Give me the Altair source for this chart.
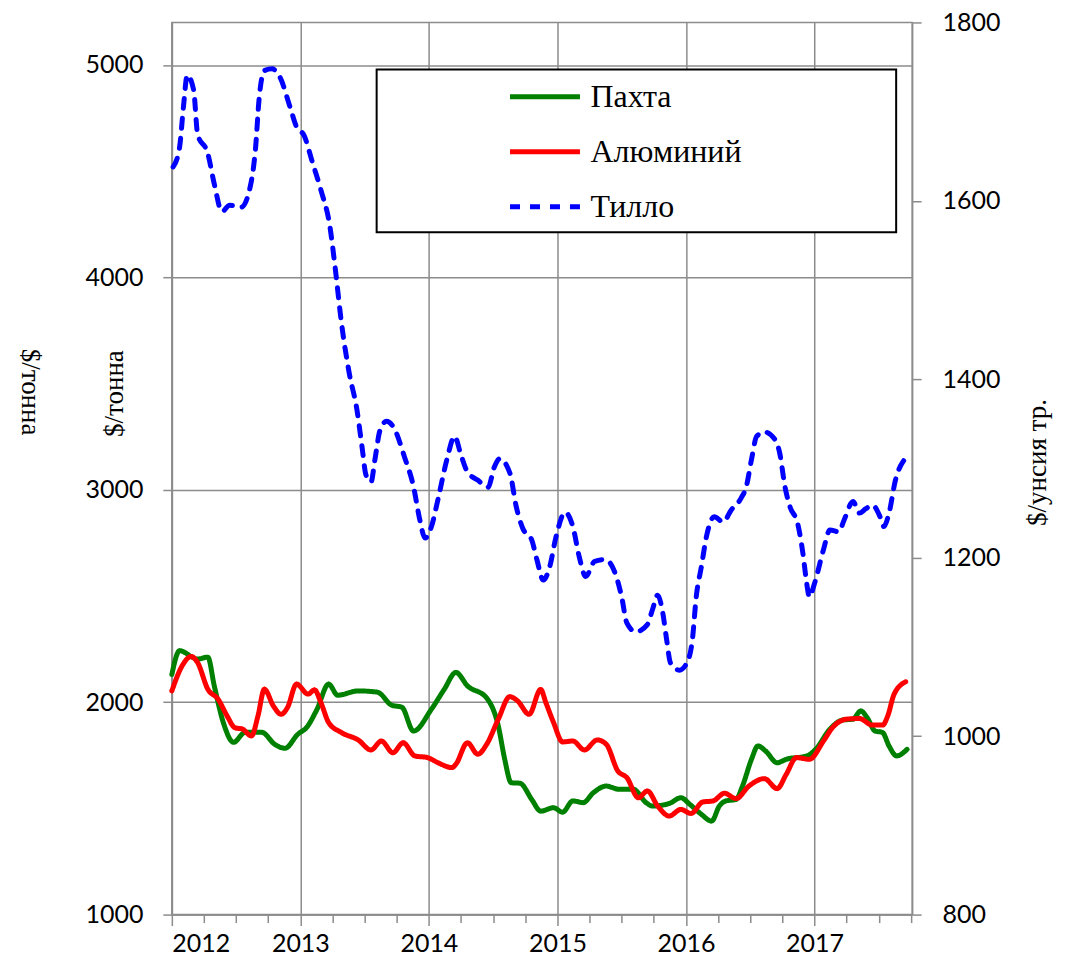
import altair as alt
import pandas as pd

# ---------------- data ----------------
series_names = ["Пахта", "Алюминий", "Тилло"]

cotton_year = [2012.00, 2012.06, 2012.20, 2012.28, 2012.33, 2012.40, 2012.48, 2012.57, 2012.70,
               2012.80, 2012.88, 2012.98, 2013.05, 2013.13, 2013.22, 2013.29, 2013.45, 2013.60,
               2013.71, 2013.79, 2013.88, 2014.02, 2014.12, 2014.21, 2014.30, 2014.45, 2014.54,
               2014.59, 2014.64, 2014.71, 2014.80, 2014.87, 2014.97, 2015.04, 2015.12, 2015.20,
               2015.28, 2015.38, 2015.48, 2015.59, 2015.69, 2015.74, 2015.87, 2015.96, 2016.03,
               2016.12, 2016.20, 2016.26, 2016.31, 2016.39, 2016.44, 2016.51, 2016.56, 2016.62,
               2016.71, 2016.78, 2016.94, 2017.01, 2017.12, 2017.22, 2017.30, 2017.36, 2017.41,
               2017.47, 2017.53, 2017.58, 2017.64, 2017.72]
cotton_val = [2130, 2242, 2203, 2212, 2077, 1905, 1811, 1858, 1858,
              1802, 1783, 1849, 1882, 1967, 2085, 2033, 2053, 2047,
              1986, 1976, 1864, 1967, 2061, 2140, 2077, 2019, 1888,
              1731, 1621, 1618, 1542, 1487, 1503, 1482, 1535, 1527,
              1574, 1605, 1590, 1590, 1527, 1511, 1523, 1550, 1519,
              1472, 1440, 1511, 1535, 1542, 1605, 1731, 1794, 1770,
              1715, 1731, 1747, 1778, 1873, 1916, 1920, 1959, 1927,
              1865, 1857, 1794, 1747, 1778]

alu_year = [2012.00, 2012.08, 2012.15, 2012.20, 2012.28, 2012.36, 2012.43, 2012.49, 2012.55,
            2012.62, 2012.67, 2012.72, 2012.79, 2012.85, 2012.90, 2012.97, 2013.06, 2013.11,
            2013.16, 2013.22, 2013.32, 2013.45, 2013.55, 2013.63, 2013.72, 2013.80, 2013.89,
            2013.99, 2014.07, 2014.18, 2014.21, 2014.30, 2014.38, 2014.45, 2014.54, 2014.63,
            2014.69, 2014.78, 2014.87, 2014.91, 2014.97, 2015.04, 2015.12, 2015.21, 2015.31,
            2015.38, 2015.47, 2015.54, 2015.63, 2015.70, 2015.78, 2015.87, 2015.96, 2016.04,
            2016.13, 2016.21, 2016.30, 2016.39, 2016.49, 2016.61, 2016.71, 2016.78, 2016.86,
            2016.96, 2017.07, 2017.14, 2017.25, 2017.35, 2017.45, 2017.53, 2017.57, 2017.62,
            2017.71]
alu_val = [2053, 2171, 2215, 2187, 2061, 2014, 1935, 1880, 1873,
           1841, 1935, 2061, 1982, 1943, 1975, 2085, 2038, 2058,
           1998, 1904, 1857, 1822, 1775, 1817, 1762, 1809, 1747,
           1739, 1715, 1692, 1708, 1809, 1755, 1802, 1920, 2026,
           2006, 1943, 2060, 1998, 1904, 1813, 1817, 1775, 1822,
           1802, 1676, 1645, 1550, 1582, 1511, 1464, 1495, 1476,
           1530, 1535, 1571, 1546, 1605, 1640, 1593, 1660, 1739,
           1731, 1817, 1880, 1920, 1923, 1892, 1892, 1935, 2038,
           2096]

gold_year = [2012.01, 2012.06, 2012.09, 2012.12, 2012.17, 2012.20, 2012.28, 2012.33, 2012.39,
             2012.45, 2012.54, 2012.61, 2012.65, 2012.68, 2012.72, 2012.78, 2012.84, 2012.92,
             2012.97, 2013.03, 2013.09, 2013.16, 2013.23, 2013.27, 2013.32, 2013.38, 2013.44,
             2013.48, 2013.51, 2013.55, 2013.58, 2013.62, 2013.67, 2013.73, 2013.81, 2013.88,
             2013.93, 2013.97, 2014.02, 2014.07, 2014.14, 2014.20, 2014.25, 2014.30, 2014.38,
             2014.46, 2014.51, 2014.55, 2014.63, 2014.68, 2014.73, 2014.80, 2014.84, 2014.89,
             2014.94, 2014.99, 2015.06, 2015.12, 2015.17, 2015.22, 2015.29, 2015.37, 2015.44,
             2015.50, 2015.54, 2015.61, 2015.70, 2015.74, 2015.78, 2015.82, 2015.85, 2015.88,
             2015.95, 2016.01, 2016.05, 2016.08, 2016.12, 2016.16, 2016.22, 2016.29, 2016.35,
             2016.43, 2016.47, 2016.51, 2016.55, 2016.61, 2016.69, 2016.73, 2016.77, 2016.81,
             2016.87, 2016.91, 2016.94, 2016.96, 2017.00, 2017.07, 2017.12, 2017.19, 2017.23,
             2017.30, 2017.35, 2017.40, 2017.45, 2017.51, 2017.54, 2017.58, 2017.63, 2017.70]
gold_val = [1638, 1660, 1705, 1741, 1724, 1675, 1653, 1619, 1588,
            1595, 1593, 1616, 1657, 1716, 1746, 1748, 1739, 1705,
            1683, 1673, 1645, 1612, 1571, 1526, 1463, 1407, 1366,
            1324, 1293, 1285, 1310, 1343, 1353, 1345, 1313, 1280,
            1242, 1222, 1235, 1265, 1310, 1336, 1315, 1296, 1287,
            1279, 1302, 1311, 1295, 1257, 1233, 1220, 1198, 1175,
            1190, 1224, 1251, 1235, 1201, 1179, 1196, 1198, 1186,
            1156, 1127, 1117, 1125, 1142, 1158, 1138, 1108, 1082,
            1074, 1083, 1108, 1156, 1190, 1224, 1246, 1240, 1253,
            1267, 1280, 1310, 1336, 1341, 1333, 1317, 1280, 1257,
            1238, 1205, 1171, 1156, 1171, 1209, 1231, 1229, 1242,
            1263, 1250, 1255, 1259, 1246, 1235, 1250, 1287, 1310]

year_ticks = [2012, 2013, 2014, 2015, 2016, 2017]
quarter_ticks = [y + q / 4 for y in range(2012, 2018) for q in range(4)]
left_ticks = [1000, 2000, 3000, 4000, 5000]
right_ticks = [800, 1000, 1200, 1400, 1600, 1800]

left_df = pd.DataFrame({
    "year": cotton_year + alu_year,
    "value": cotton_val + alu_val,
    "series": [series_names[0]] * len(cotton_year) + [series_names[1]] * len(alu_year),
})
right_df = pd.DataFrame({
    "year": gold_year,
    "value": gold_val,
    "series": [series_names[2]] * len(gold_year),
})

GRAY = "#8c8c8c"
SERIF = "Liberation Serif"
SANS = "Lato"

color_scale = alt.Scale(domain=series_names, range=["#008000", "#ff0000", "#0000ff"])
dash_scale = alt.Scale(domain=series_names, range=[[1, 0], [1, 0], [10, 10]])

legend = alt.Legend(
    orient="none", legendX=336, legendY=37, title=None,
    symbolType="stroke", symbolSize=4900, symbolStrokeWidth=5,
    labelFont=SERIF, labelFontSize=32, labelColor="black", labelOffset=8,
    rowPadding=1, padding=0, direction="vertical",
)

x_enc = alt.X(
    "year:Q",
    scale=alt.Scale(domain=[2012, 2017.76], nice=False, zero=False),
    axis=alt.Axis(
        values=quarter_ticks, title=None,
        labelExpr="datum.value % 1 == 0 ? format(datum.value, 'd') : ''",
        grid=True,
        gridOpacity=alt.condition("datum.value % 1 == 0", alt.value(1), alt.value(0)),
        tickSize=alt.condition("datum.value % 1 == 0", alt.value(11), alt.value(8)),
        labelPadding=6, labelFontSize=25, labelFont=SANS,
    ),
)

box = alt.Chart(pd.DataFrame({"k": [0]})).mark_rect(
    fill="white", stroke="black", strokeWidth=2
).encode(x=alt.value(205), x2=alt.value(725), y=alt.value(47), y2=alt.value(210))

ghost = alt.Chart(pd.DataFrame({"k": [0]})).mark_text(
    font=SERIF, fontSize=27, angle=90, color="black", align="center", baseline="middle"
).encode(x=alt.value(-142), y=alt.value(370), text=alt.value("$/тонна"))

left_lines = alt.Chart(left_df).mark_line(
    strokeWidth=5, interpolate="monotone", strokeCap="round", strokeJoin="round"
).encode(
    x=x_enc,
    y=alt.Y(
        "value:Q",
        scale=alt.Scale(domain=[1000, 5200], nice=False, zero=False),
        axis=alt.Axis(
            orient="left", values=left_ticks, grid=True, title="$/тонна", format="d",
            titleFont=SERIF, titleFontSize=27, titleFontWeight="normal",
            titleAngle=270, titleX=-57, titleY=371, titleAlign="center", titleBaseline="middle",
            labelPadding=20, tickSize=9, labelFontSize=25, labelFont=SANS,
        ),
    ),
    color=alt.Color("series:N", scale=color_scale, legend=legend),
    strokeDash=alt.StrokeDash("series:N", scale=dash_scale, legend=legend),
    detail="series:N",
)

right_line = alt.Chart(right_df).mark_line(
    strokeWidth=5, interpolate="monotone", strokeCap="round", strokeJoin="round"
).encode(
    x=x_enc,
    y=alt.Y(
        "value:Q",
        scale=alt.Scale(domain=[800, 1800], nice=False, zero=False),
        axis=alt.Axis(
            orient="right", values=right_ticks, grid=False, title="$/унсия тр.", format="d",
            titleFont=SERIF, titleFontSize=27, titleFontWeight="normal",
            titleAngle=270, titleX=125, titleY=440, titleAlign="center", titleBaseline="middle",
            labelPadding=21, tickSize=9, labelFontSize=25, labelFont=SANS,
        ),
    ),
    color=alt.Color("series:N", scale=color_scale, legend=legend),
    strokeDash=alt.StrokeDash("series:N", scale=dash_scale, legend=legend),
)

chart = alt.layer(box, ghost, left_lines, right_line).resolve_scale(
    y="independent"
).properties(
    width=741, height=893,
    autosize=alt.AutoSizeParams(type="none"),
    padding={"left": 164, "top": 14, "right": 150, "bottom": 45},
).configure_view(
    stroke=GRAY, strokeWidth=1.5
).configure_axis(
    domainColor=GRAY, domainWidth=1.5, tickColor=GRAY, tickWidth=1.5,
    gridColor=GRAY, gridWidth=1.5, labelColor="black", titleColor="black",
)

chart.save("out.html", embed_options={"renderer": "svg", "actions": False})
